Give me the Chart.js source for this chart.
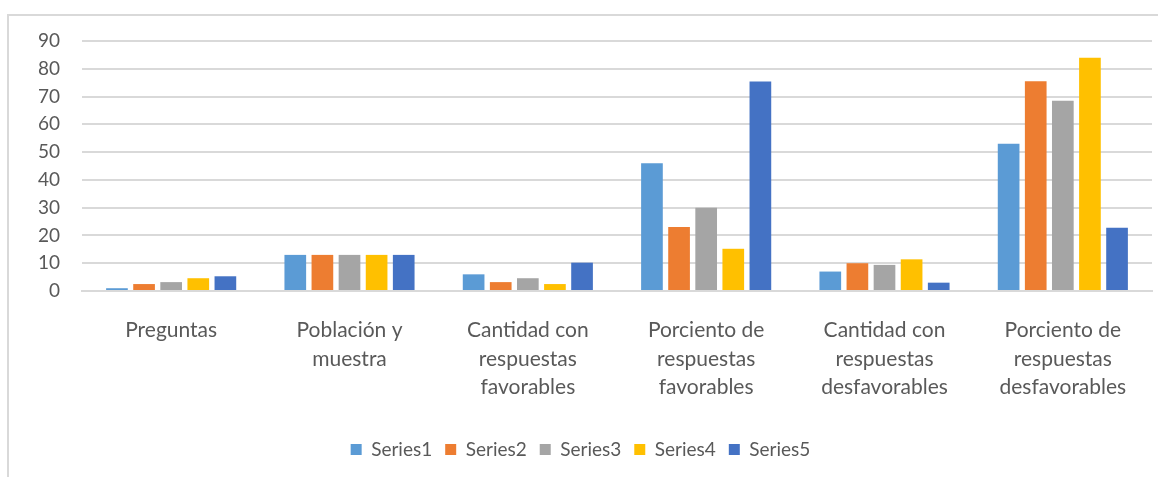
<!DOCTYPE html>
<html>
<head>
<meta charset="utf-8">
<script src="https://cdn.jsdelivr.net/npm/chart.js@4"></script>
<style>
  html, body { margin: 0; padding: 0; background: #fff; }
  #frame {
    position: absolute;
    left: 7px;
    top: 14px;
    width: 1151px;
    height: 463px;
    border-left: 2px solid #d9d9d9;
    border-top: 2px solid #d9d9d9;
    box-sizing: border-box;
  }
  #chart { display: block; }
</style>
</head>
<body>
<div id="frame"><canvas id="chart" width="1149" height="461"></canvas></div>
<script>
const categories = [
  "Preguntas",
  ["Población y", "muestra"],
  ["Cantidad con", "respuestas", "favorables"],
  ["Porciento de", "respuestas", "favorables"],
  ["Cantidad con", "respuestas", "desfavorables"],
  ["Porciento de", "respuestas", "desfavorables"],
]

const series1 = [1, 13, 6, 46, 7, 53]
const series2 = [2.5, 13, 3.2, 23, 10, 75.5]
const series3 = [3.2, 13, 4.6, 30, 9.4, 68.5]
const series4 = [4.6, 13, 2.5, 15.2, 11.4, 84]
const series5 = [5.3, 13, 10.2, 75.4, 3, 22.8]

const seriesNames = ["Series1", "Series2", "Series3", "Series4", "Series5"]
const seriesColors = ["#5b9bd5", "#ed7d31", "#a5a5a5", "#ffc000", "#4472c4"]

const TEXT = "#595959"
const GRID = "#d9d9d9"
const FONT = "Lato, 'Open Sans', sans-serif"

const datasets = [series1, series2, series3, series4, series5].map((values, i) => ({
  label: seriesNames[i],
  data: values,
  backgroundColor: seriesColors[i],
  borderWidth: 0,
  categoryPercentage: 0.76,
  barPercentage: 0.8,
}))

new Chart(document.getElementById("chart"), {
  type: "bar",
  data: { labels: categories, datasets },
  options: {
    responsive: false,
    animation: false,
    layout: { padding: { top: 25, right: 6, bottom: 8, left: 0 } },
    plugins: {
      tooltip: { enabled: false },
      legend: {
        position: "bottom",
        labels: {
          color: TEXT,
          font: { family: FONT, size: 19 },
          boxWidth: 11,
          boxHeight: 11,
          padding: 13,
        },
      },
    },
    scales: {
      x: {
        grid: { display: false },
        border: { color: GRID, width: 2 },
        ticks: {
          color: TEXT,
          font: { family: FONT, size: 21, lineHeight: 1.36 },
          padding: 17,
          maxRotation: 0,
          autoSkip: false,
        },
        afterFit: (axis) => {
          axis.height = 136
          axis.paddingLeft = 0
          axis.paddingRight = 0
        },
      },
      y: {
        min: 0,
        max: 90,
        grid: { color: GRID, lineWidth: 2, drawTicks: false },
        border: { display: false },
        ticks: {
          stepSize: 10,
          color: TEXT,
          font: { family: FONT, size: 19 },
          padding: 22,
        },
        afterFit: (axis) => {
          axis.width = 73
          axis.paddingTop = 0
          axis.paddingBottom = 0
        },
      },
    },
  },
})
</script>
</body>
</html>
